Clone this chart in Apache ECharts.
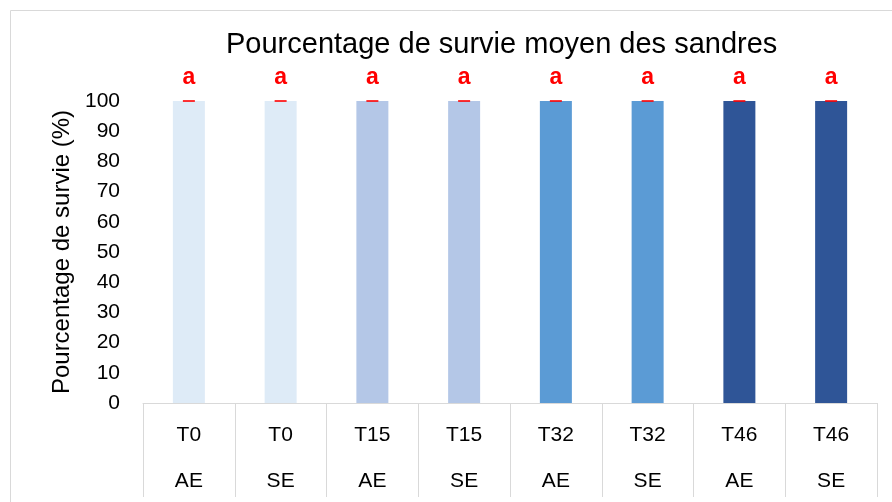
<!DOCTYPE html>
<html>
<head>
<meta charset="utf-8">
<script src="https://cdn.jsdelivr.net/npm/echarts@6/dist/echarts.min.js"></script>
<style>
  html, body { margin: 0; padding: 0; background: #fff; }
  #chart { width: 892px; height: 502px; }
</style>
</head>
<body>
<div id="chart"></div>
<script>
// données
var temps = ['T0', 'T0', 'T15', 'T15', 'T32', 'T32', 'T46', 'T46'];
var traitements = ['AE', 'SE', 'AE', 'SE', 'AE', 'SE', 'AE', 'SE'];
var survie = [100, 100, 100, 100, 100, 100, 100, 100];
var lettres = ['a', 'a', 'a', 'a', 'a', 'a', 'a', 'a'];
var couleurs = ['#DEEBF7', '#DEEBF7', '#B4C7E7', '#B4C7E7', '#5B9BD5', '#5B9BD5', '#2F5597', '#2F5597'];
var yTicks = [0, 10, 20, 30, 40, 50, 60, 70, 80, 90, 100];

var police = 'Liberation Sans';
var chart = echarts.init(document.getElementById('chart'));

var categories = temps.map(function (t, i) { return t + '|' + traitements[i]; });

var option = {
  animation: false,
  textStyle: { fontFamily: police },
  graphic: [{
    type: 'rect',
    shape: { x: 10.5, y: 10.5, width: 900, height: 600 },
    style: { fill: 'none', stroke: '#d9d9d9', lineWidth: 1 },
    silent: true
  }],
  title: {
    text: 'Pourcentage de survie moyen des sandres',
    left: 221,
    top: 25,
    textStyle: { fontFamily: police, fontSize: 29, fontWeight: 'normal', color: '#000' }
  },
  grid: { left: 143, right: 15, top: 101, bottom: 99 },
  xAxis: {
    type: 'category',
    data: categories,
    axisLine: { lineStyle: { color: '#d9d9d9', width: 1 } },
    axisTick: { show: true, length: 94, lineStyle: { color: '#d9d9d9' } },
    axisLabel: {
      margin: 9,
      formatter: function (v) {
        var p = v.split('|');
        return '{a|' + p[0] + '}\n{b|' + p[1] + '}';
      },
      rich: {
        a: { fontFamily: police, fontSize: 21, color: '#000', lineHeight: 46 },
        b: { fontFamily: police, fontSize: 21, color: '#000', lineHeight: 46 }
      }
    }
  },
  yAxis: {
    type: 'value',
    min: 0,
    max: 100,
    interval: 10,
    name: 'Pourcentage de survie (%)',
    nameLocation: 'middle',
    nameGap: 69,
    nameTextStyle: { fontFamily: police, fontSize: 24, color: '#000' },
    axisLine: { show: false },
    axisTick: { show: false },
    splitLine: { show: false },
    axisLabel: {
      margin: 23,
      fontFamily: police,
      fontSize: 21,
      color: '#000',
      customValues: yTicks
    }
  },
  series: [
    {
      type: 'bar',
      data: survie.map(function (v, i) {
        return { value: v, itemStyle: { color: couleurs[i] } };
      }),
      barWidth: 32,
      label: {
        show: true,
        position: 'top',
        distance: 12,
        formatter: function (p) { return lettres[p.dataIndex]; },
        fontFamily: police,
        fontSize: 23,
        fontWeight: 'bold',
        color: '#FF0000'
      }
    },
    {
      // barres d'erreur (écart nul)
      type: 'scatter',
      data: survie,
      symbol: 'rect',
      symbolSize: [12, 2],
      itemStyle: { color: '#FF0000' },
      z: 5
    }
  ]
};

chart.setOption(option);
</script>
</body>
</html>
